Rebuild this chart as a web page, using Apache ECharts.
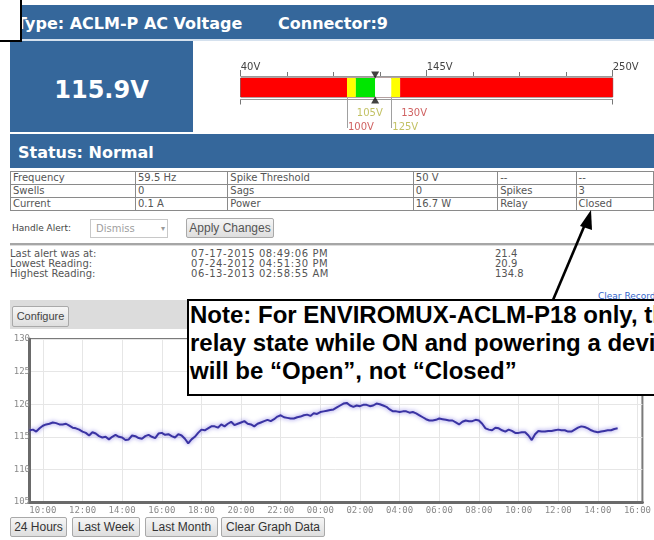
<!DOCTYPE html>
<html><head><meta charset="utf-8">
<script src="https://cdn.jsdelivr.net/npm/echarts@6/dist/echarts.min.js"></script>
<style>
html,body{margin:0;padding:0;width:654px;height:540px;overflow:hidden;background:#fff;font-family:"DejaVu Sans",Verdana,sans-serif;}
.a{position:absolute;}
.blue{background:#35679b;}
.hd{color:#fff;font-weight:bold;font-size:16px;line-height:16px;white-space:nowrap;}
table.st{position:absolute;left:10px;top:171px;border-collapse:collapse;font-size:10px;color:#555;}
table.st td{border:1px solid #8a8a8a;height:12px;line-height:12px;padding:0 2px;white-space:nowrap;}
.btn{position:absolute;box-sizing:border-box;border:1px solid #a9a9a9;border-radius:2px;background:linear-gradient(#f6f6f6,#dedede);font-family:"Liberation Sans",Arial,sans-serif;color:#333;text-align:center;white-space:nowrap;}
.info{position:absolute;font-size:10px;line-height:10px;color:#555;white-space:nowrap;}
</style></head><body>
<div class="a blue" style="left:10px;top:5px;width:644px;height:34px"></div>
<div class="a" style="left:10px;top:39px;width:644px;height:2px;background:#d5e1ee"></div>
<div class="a hd" style="left:16px;top:16px">Type: ACLM-P AC Voltage</div>
<div class="a hd" style="left:278px;top:16px">Connector:9</div>
<div class="a blue" style="left:10px;top:41px;width:183px;height:91px"></div>
<div class="a" style="left:10px;top:78px;width:183px;text-align:center;color:#fff;font-weight:bold;font-size:24px;line-height:24px">115.9V</div>
<div class="a blue" style="left:10px;top:134px;width:644px;height:34px"></div>
<div class="a hd" style="left:18px;top:145px">Status: Normal</div>

<table class="st">
<tr><td style="width:121px">Frequency</td><td style="width:88px">59.5 Hz</td><td style="width:182px">Spike Threshold</td><td style="width:80px">50 V</td><td style="width:74px">--</td><td style="width:73px">--</td></tr>
<tr><td>Swells</td><td>0</td><td>Sags</td><td>0</td><td>Spikes</td><td>3</td></tr>
<tr><td>Current</td><td>0.1 A</td><td>Power</td><td>16.7 W</td><td>Relay</td><td>Closed</td></tr>
</table>

<div class="a" style="left:12px;top:223px;font-size:9px;line-height:11px;color:#444">Handle Alert:</div>
<div class="a" style="left:90px;top:219px;width:78px;height:19px;box-sizing:border-box;border:1px solid #c8c8c8;background:#fff"></div>
<div class="a" style="left:96px;top:223px;font-size:10px;line-height:11px;color:#a0a0a0">Dismiss</div>
<div class="a" style="left:161px;top:223px;font-size:8px;line-height:11px;color:#999">▾</div>
<div class="btn" style="left:186px;top:218px;width:88px;height:20px;font-size:12px;line-height:18px;color:#555">Apply Changes</div>

<div class="a" style="left:10px;top:243px;width:644px;height:0;border-top:2px solid #a6a6a6;border-bottom:1px solid #dcdcdc"></div>
<div class="info" style="left:10px;top:249px">Last alert was at:<br>Lowest Reading:<br>Highest Reading:</div>
<div class="info" style="left:191px;top:249px;letter-spacing:0.6px">07-17-2015 08:49:06 PM<br>07-24-2012 04:51:30 PM<br>06-13-2013 02:58:55 AM</div>
<div class="info" style="left:495px;top:249px">21.4<br>20.9<br>134.8</div>
<div class="a" style="left:598px;top:291px;font-size:9px;line-height:10px;color:#3366cc;text-decoration:underline;white-space:nowrap">Clear Records</div>

<div class="a" style="left:10px;top:300px;width:644px;height:29px;background:#dcdcdc"></div>
<div class="btn" style="left:12px;top:306px;width:57px;height:21px;font-size:11px;line-height:19px;color:#444">Configure</div>

<div class="btn" style="left:10px;top:517px;width:57px;height:20px;font-size:12px;line-height:18px">24 Hours</div>
<div class="btn" style="left:72px;top:517px;width:68px;height:20px;font-size:12px;line-height:18px">Last Week</div>
<div class="btn" style="left:145px;top:517px;width:73px;height:20px;font-size:12px;line-height:18px">Last Month</div>
<div class="btn" style="left:221px;top:517px;width:104px;height:20px;font-size:12px;line-height:18px">Clear Graph Data</div>

<div id="chart" class="a" style="left:0;top:0;width:654px;height:540px;z-index:2"></div>

<div class="a" style="left:187px;top:299px;width:600px;height:84px;padding:0 0 9px 1px;border:2px solid #000;background:#fff;z-index:3;font-family:'Liberation Sans',Arial,sans-serif;font-weight:bold;font-size:24px;line-height:28px;color:#000;white-space:nowrap">Note: For ENVIROMUX-ACLM-P18 only, the<br>relay state while ON and powering a device<br>will be “Open”, not “Closed”</div>
<div class="a" style="left:-2px;top:-2px;width:20px;height:40px;border:2px solid #000;background:#fff;z-index:4"></div>
<svg class="a" style="left:0;top:0;z-index:4" width="654" height="540">
<line x1="553" y1="300" x2="586" y2="222" stroke="#000" stroke-width="2.6"/>
<polygon points="591,210 580,226 592,230" fill="#000"/>
</svg>

<script>
// ---- gauge data ----
const gaugeMin = 40, gaugeMax = 250;
const gaugeLabels = [40, 145, 250];
const gaugeTicks = [40, 66.25, 92.5, 118.75, 145, 171.25, 197.5, 223.75, 250];
const lowAlarm = 100, lowWarn = 105, highWarn = 125, highAlarm = 130;
const reading = 115.9;
// ---- line chart data ----
const startHour = 9 + 20 / 60;          // 09:20 first sample
const stepHours = 10 / 60;              // one sample every 10 minutes
const volts = [
116.0,116.1,115.8,116.3,116.7,116.9,117.0,117.2,117.1,116.9,
116.9,117.0,116.7,116.4,116.3,116.1,115.8,115.6,115.2,115.7,
115.5,115.1,114.9,115.0,114.6,115.0,115.3,115.0,114.9,114.5,
114.6,115.2,115.1,114.8,114.7,115.1,115.3,115.0,114.8,115.5,
115.6,115.3,115.4,115.1,114.9,115.4,115.2,114.7,114.0,114.6,
115.0,115.6,116.1,116.0,116.3,116.6,116.6,116.4,116.9,116.6,
117.0,117.3,116.8,117.0,117.2,117.4,117.0,116.9,116.6,117.0,
117.2,117.4,117.6,117.4,117.7,118.1,118.3,118.0,117.9,117.8,
117.8,118.0,118.1,118.3,118.4,118.2,118.6,118.5,118.8,118.9,
119.0,119.1,119.2,119.5,119.8,120.1,120.2,119.8,119.6,119.8,
119.7,119.9,119.9,119.7,119.8,120.1,120.0,119.8,119.6,119.2,
118.9,118.9,118.8,118.9,118.9,118.7,118.8,118.6,118.3,118.0,
117.7,117.5,117.5,117.6,117.8,117.7,117.6,117.5,117.5,117.2,
116.9,117.3,117.5,117.4,117.4,117.6,117.5,117.0,116.3,116.1,
116.0,116.4,116.3,116.0,115.8,116.1,115.9,115.6,115.6,115.7,
115.7,115.2,114.5,115.4,115.9,115.8,115.8,115.9,115.9,116.0,
116.1,116.0,116.0,115.8,115.8,116.1,116.4,116.6,116.5,116.3,
116.0,115.8,115.7,115.8,115.9,116.0,116.0,116.2,116.3];
const hourTicks = [10,12,14,16,18,20,22,24,26,28,30,32,34,36,38,40];
const yMin = 105, yMax = 130, yStep = 5;

const chart = echarts.init(document.getElementById('chart'), null, {renderer:'canvas'});
const lineData = volts.map((v, i) => [startHour + i * stepHours, v]);
const pad = n => (n < 10 ? '0' : '') + n;
const seg = (name, val, color) => ({
  type:'bar', name, stack:'g', xAxisIndex:0, yAxisIndex:0, barWidth:19,
  data:[val], itemStyle:{color}, silent:true, z:2
});
const olive = '#b3b13c', red = '#c33a3a';
const thrLabel = (val, row, color) => ({value:[val, row], name: val + 'V', label:{color}});

chart.setOption({
  animation:false,
  grid:[
    {left:240.7, top:78, width:372, height:19, show:true, borderColor:'#6b4444', borderWidth:1},
    {left:240.7, top:98, width:372, height:30},
    {left:29, top:339, width:619, height:163, show:true, borderColor:'#7a7a7a', borderWidth:2}
  ],
  xAxis:[
    {gridIndex:0, type:'value', position:'top', min:gaugeMin, max:gaugeMax, offset:2,
     axisLine:{show:true, lineStyle:{color:'#9a9a9a', width:1}},
     axisTick:{show:true, customValues:gaugeTicks, length:4, lineStyle:{color:'#777'}},
     axisLabel:{show:true, customValues:gaugeLabels, formatter:v => v + 'V', align:'left', fontSize:10, color:'#444', margin:4, fontFamily:'DejaVu Sans'},
     splitLine:{show:false}},
    {gridIndex:0, type:'value', position:'top', min:gaugeMin, max:gaugeMax, offset:2,
     axisLine:{show:false}, axisTick:{show:true, customValues:gaugeLabels, length:6, lineStyle:{color:'#777'}},
     axisLabel:{show:false}, splitLine:{show:false}},
    {gridIndex:0, type:'value', position:'bottom', min:gaugeMin, max:gaugeMax, offset:2.5,
     axisLine:{show:true, lineStyle:{color:'#9a9a9a', width:1}},
     axisTick:{show:true, customValues:[gaugeMin, gaugeMax], length:5, lineStyle:{color:'#777'}},
     axisLabel:{show:false}, splitLine:{show:false}},
    {gridIndex:1, type:'value', min:gaugeMin, max:gaugeMax, show:false},
    {gridIndex:2, type:'value', min:startHour - 0.0333, max:40.25,
     axisLine:{show:true, lineStyle:{color:'#6a6a6a', width:3}},
     axisTick:{show:false, customValues:hourTicks},
     axisLabel:{customValues:hourTicks, formatter:v => pad(v % 24) + ':00', fontFamily:'DejaVu Sans Mono', fontSize:9, color:'#8a8a8a', margin:4},
     splitLine:{show:true, lineStyle:{color:'#e6e6e6', width:1}}}
  ],
  yAxis:[
    {gridIndex:0, type:'category', data:['v'], show:false},
    {gridIndex:1, type:'value', min:0, max:30, inverse:true, show:false},
    {gridIndex:2, type:'value', min:yMin, max:yMax, interval:yStep,
     axisLine:{show:true, lineStyle:{color:'#6a6a6a', width:3}},
     axisTick:{show:false},
     axisLabel:{fontFamily:'DejaVu Sans Mono', fontSize:9, color:'#8a8a8a', margin:-1},
     splitLine:{show:true, lineStyle:{color:'#e6e6e6', width:1}}}
  ],
  series:[
    seg('lowAlarm', lowAlarm, '#ff0000'),
    seg('lowWarn', lowWarn - lowAlarm, '#ffff00'),
    seg('normal', reading - lowWarn, '#00e600'),
    seg('normalHigh', highWarn - reading, '#ffffff'),
    seg('highWarn', highAlarm - highWarn, '#ffff00'),
    seg('highAlarm', gaugeMax - highAlarm, '#ff0000'),
    {type:'scatter', xAxisIndex:0, yAxisIndex:0, data:[[reading,'v']], symbol:'triangle', symbolRotate:180,
     symbolSize:[8,7], symbolOffset:[0,-12.5], itemStyle:{color:'#111'}, clip:false, silent:true, z:5},
    {type:'scatter', xAxisIndex:0, yAxisIndex:0, data:[[reading,'v']], symbol:'triangle',
     symbolSize:[8,7], symbolOffset:[0,12.5], itemStyle:{color:'#111'}, clip:false, silent:true, z:5},
    {type:'scatter', xAxisIndex:3, yAxisIndex:1, symbolSize:0, silent:true, clip:false,
     data:[thrLabel(lowWarn, 15, olive), thrLabel(highAlarm, 15, red), thrLabel(lowAlarm, 29, red), thrLabel(highWarn, 29, olive)],
     label:{show:true, position:'right', distance:1, formatter:'{b}', fontSize:10, fontFamily:'DejaVu Sans'},
     markLine:{silent:true, symbol:['none','none'], label:{show:false},
       lineStyle:{color:'#a0a0a0', type:'solid', width:1},
       data:[{xAxis:lowAlarm},{xAxis:highWarn}]}},
    {type:'line', xAxisIndex:4, yAxisIndex:2, data:lineData, showSymbol:false, silent:true,
     lineStyle:{color:'#3a33a3', width:2, shadowColor:'rgba(120,110,225,0.9)', shadowBlur:4}, z:3}
  ]
});
</script>
</body></html>
